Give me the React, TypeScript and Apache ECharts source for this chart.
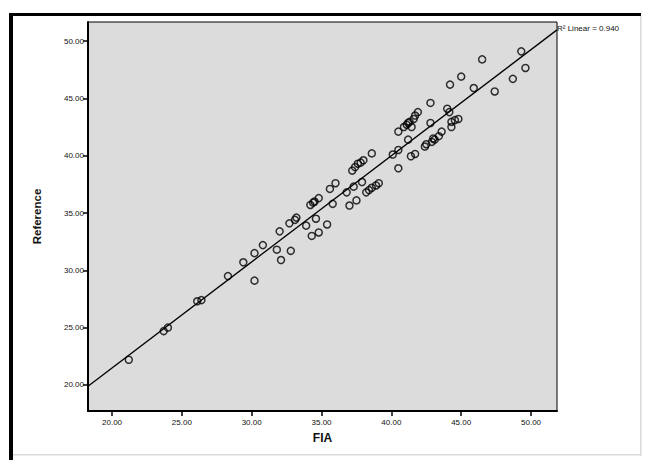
import React, { useEffect, useRef } from "react";
import * as echarts from "echarts";

// FIA (x) values
const fiaValues: number[] = [
  21.2, 23.7, 24.0, 26.1, 26.4, 28.3, 29.4, 30.2, 30.2, 30.8,
  31.8, 32.1, 32.8, 32.0, 32.7, 33.1, 33.2, 33.9, 34.6, 34.3,
  34.8, 35.4, 34.2, 34.5, 34.8, 34.4, 35.8, 35.6, 36.0, 36.8,
  37.3, 37.9, 37.0, 37.5, 38.2, 38.6, 38.9, 39.1, 38.4, 37.2,
  37.4, 37.6, 38.0, 37.8, 38.6, 40.1, 40.5, 40.5, 41.4, 41.7,
  42.4, 42.5, 42.9, 43.1, 43.4, 43.6, 43.0, 41.2, 40.5, 40.9,
  41.1, 41.3, 41.6, 41.7, 41.9, 41.45, 41.2, 42.8, 42.8, 44.0,
  44.15, 44.3, 44.55, 44.8, 44.3, 44.2, 45.0, 45.9, 46.5, 47.4,
  48.7, 49.3, 49.6,
];
// Reference (y) values
const referenceValues: number[] = [
  22.2, 24.7, 25.0, 27.3, 27.4, 29.5, 30.7, 29.1, 31.5, 32.2,
  31.8, 30.9, 31.7, 33.4, 34.1, 34.4, 34.6, 33.9, 34.5, 33.0,
  33.3, 34.0, 35.7, 36.0, 36.3, 35.9, 35.8, 37.1, 37.6, 36.8,
  37.3, 37.7, 35.65, 36.1, 36.8, 37.2, 37.4, 37.6, 37.0, 38.7,
  39.0, 39.3, 39.6, 39.4, 40.2, 40.1, 40.5, 38.9, 39.95, 40.15,
  40.8, 41.0, 41.2, 41.4, 41.7, 42.1, 41.5, 41.4, 42.1, 42.5,
  42.7, 42.95, 43.2, 43.5, 43.8, 42.5, 42.85, 42.85, 44.6, 44.1,
  43.8, 42.95, 43.1, 43.2, 42.5, 46.2, 46.9, 45.9, 48.4, 45.6,
  46.7, 49.1, 47.65,
];

const tickValues: number[] = [20, 25, 30, 35, 40, 45, 50];
const xRange: number[] = [18.28, 51.86];
const yRange: number[] = [17.73, 51.66];
const r2Label = "R\u00B2 Linear = 0.940";

function linearFit(xs: number[], ys: number[]) {
  const n = xs.length;
  const mx = xs.reduce((a, b) => a + b, 0) / n;
  const my = ys.reduce((a, b) => a + b, 0) / n;
  let sxy = 0;
  let sxx = 0;
  for (let i = 0; i < n; i++) {
    sxy += (xs[i] - mx) * (ys[i] - my);
    sxx += (xs[i] - mx) * (xs[i] - mx);
  }
  const slope = sxy / sxx;
  return { slope, intercept: my - slope * mx };
}

export default function App() {
  const ref = useRef<HTMLDivElement>(null);
  useEffect(() => {
    if (!ref.current) return;
    const chart = echarts.init(ref.current, null, { renderer: "svg" });
    const points = fiaValues.map((x, i) => [x, referenceValues[i]]);
    const fit = linearFit(fiaValues, referenceValues);
    const fitLine = xRange.map((x) => [x, fit.intercept + fit.slope * x]);
    const font = "'Liberation Sans', Arial, sans-serif";
    chart.setOption({
      animation: false,
      backgroundColor: "#ffffff",
      grid: {
        left: 88,
        right: 91,
        top: 22,
        bottom: 49,
        show: true,
        backgroundColor: "#dcdcdc",
        borderColor: "#000",
        borderWidth: 1,
      },
      xAxis: {
        type: "value",
        min: xRange[0],
        max: xRange[1],
        name: "FIA",
        nameLocation: "middle",
        nameGap: 21,
        nameTextStyle: { fontFamily: font, fontSize: 12, fontWeight: "bold", color: "#111" },
        splitLine: { show: false },
        axisLine: { show: true, lineStyle: { color: "#000", width: 2 } },
        axisTick: { show: true, customValues: tickValues, length: 5, lineStyle: { color: "#000", width: 1.5 } },
        axisLabel: {
          customValues: tickValues,
          formatter: (v: number) => v.toFixed(2),
          fontFamily: font,
          fontSize: 8,
          color: "#111",
          margin: 7,
        },
      },
      yAxis: {
        type: "value",
        min: yRange[0],
        max: yRange[1],
        name: "Reference",
        nameLocation: "middle",
        nameRotate: 90,
        nameGap: 45,
        nameTextStyle: { fontFamily: font, fontSize: 11.5, fontWeight: "bold", color: "#111" },
        splitLine: { show: false },
        axisLine: { show: true, lineStyle: { color: "#000", width: 2 } },
        axisTick: { show: true, customValues: tickValues, length: 5, lineStyle: { color: "#000", width: 1.5 } },
        axisLabel: {
          customValues: tickValues,
          formatter: (v: number) => v.toFixed(2),
          fontFamily: font,
          fontSize: 8,
          color: "#111",
          margin: 4,
        },
      },
      series: [
        {
          type: "line",
          data: fitLine,
          symbol: "none",
          lineStyle: { color: "#000", width: 1.3 },
          silent: true,
          z: 1,
        },
        {
          type: "scatter",
          data: points,
          symbol: "circle",
          symbolSize: 7,
          itemStyle: { color: "rgba(0,0,0,0)", borderColor: "#000", borderWidth: 1.5 },
          z: 2,
        },
      ],
      graphic: [
        { type: "rect", shape: { x: 9, y: 13, width: 4, height: 447 }, style: { fill: "#000" } },
        { type: "rect", shape: { x: 9, y: 13, width: 632, height: 3 }, style: { fill: "#000" } },
        { type: "rect", shape: { x: 640, y: 16, width: 1.5, height: 440 }, style: { fill: "#d9d9d9" } },
        { type: "rect", shape: { x: 13, y: 454, width: 628, height: 1.5 }, style: { fill: "#d9d9d9" } },
        {
          type: "text",
          left: 557,
          top: 24,
          style: { text: r2Label, fontFamily: font, fontSize: 8, fill: "#111" },
        },
      ],
    });
    return () => chart.dispose();
  }, []);
  return (
    <div
      ref={ref}
      style={{ position: "fixed", left: 0, top: 0, width: 648, height: 460 }}
    />
  );
}
